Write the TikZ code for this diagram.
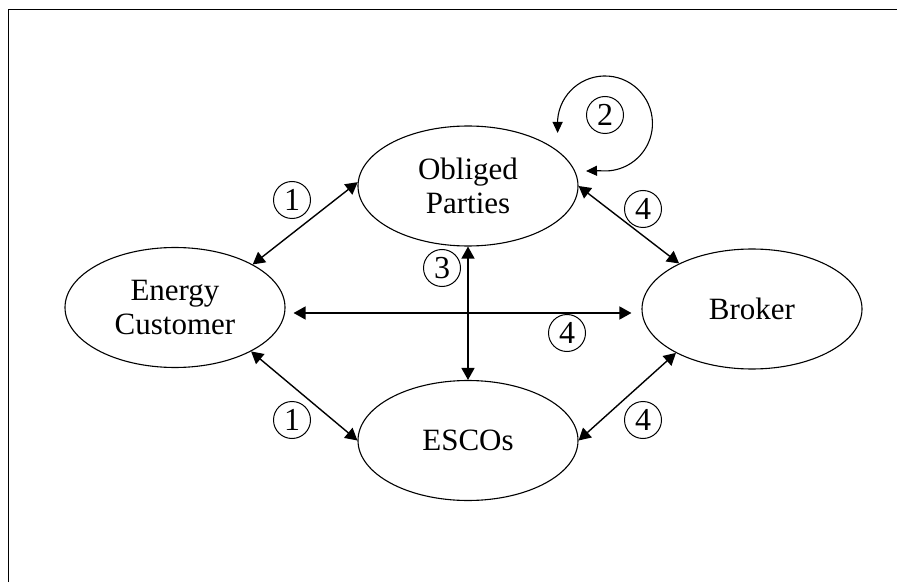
\documentclass[tikz,border=0pt]{standalone}
\usepackage{fontspec}
\setmainfont{Liberation Serif}
\usetikzlibrary{arrows.meta,shapes.geometric,calc}
\begin{document}
\begin{tikzpicture}[x=1pt,y=1pt,
  party/.style={ellipse,draw,line width=1.1pt,minimum width=220pt,minimum height=120pt,inner sep=0pt,align=center,font=\fontsize{31}{34}\selectfont},
  numc/.style={circle,draw,line width=1pt,minimum size=37pt,inner sep=0pt,font=\fontsize{32}{32}\selectfont},
  link/.style={line width=1.4pt,{Triangle[length=12pt,width=13pt]}-{Triangle[length=12pt,width=13pt]}},
  loop/.style={line width=1.1pt,{Triangle[length=11pt,width=10pt]}-{Triangle[length=11pt,width=10pt]}}
]
\useasboundingbox (0,0) rectangle (897,582);
% frame
\draw[line width=1pt] (8.5,0) -- (8.5,572) -- (897,572);
% parties
\node[party] (op) at (468,396) {Obliged\\Parties};
\node[party] (ec) at (175,274.5) {Energy\\Customer};
\node[party] (es) at (468,141.5) {ESCOs};
\node[party] (br) at (752,273) {Broker};
% connectors
\draw[link] (ec.29) -- (op.178);
\draw[link] (ec.-30) -- (es.west);
\draw[link] (op.east) -- (br.148);
\draw[link] (br.210) -- (es.east);
\draw[link] (op.south) -- (es.north);
\coordinate (h1) at ($(ec.east)+(8,-5.5)$);
\coordinate (h2) at ($(br.west)+(-10,-4)$);
\draw[link] (h1) -- (h2);
% self loop
\coordinate (l1) at ($(op.center)+(89.6,53)$);
\coordinate (l2) at ($(op.center)+(118,15)$);
\draw[loop] (l1) -- ++(0,13) arc[start angle=175.8,end angle=-96,radius=47.5] -- (l2);
% labels
\node[numc] (n1a) at (292,382) {1};
\node[numc] (n1b) at (292,162) {1};
\node[numc] (n3) at (442,314) {3};
\node[numc] (n4h) at (567,249) {4};
\node[numc] (n4a) at (643,373) {4};
\node[numc] (n4b) at (643,162) {4};
\node[numc] (n2) at (605,467) {2};
\end{tikzpicture}
\end{document}
